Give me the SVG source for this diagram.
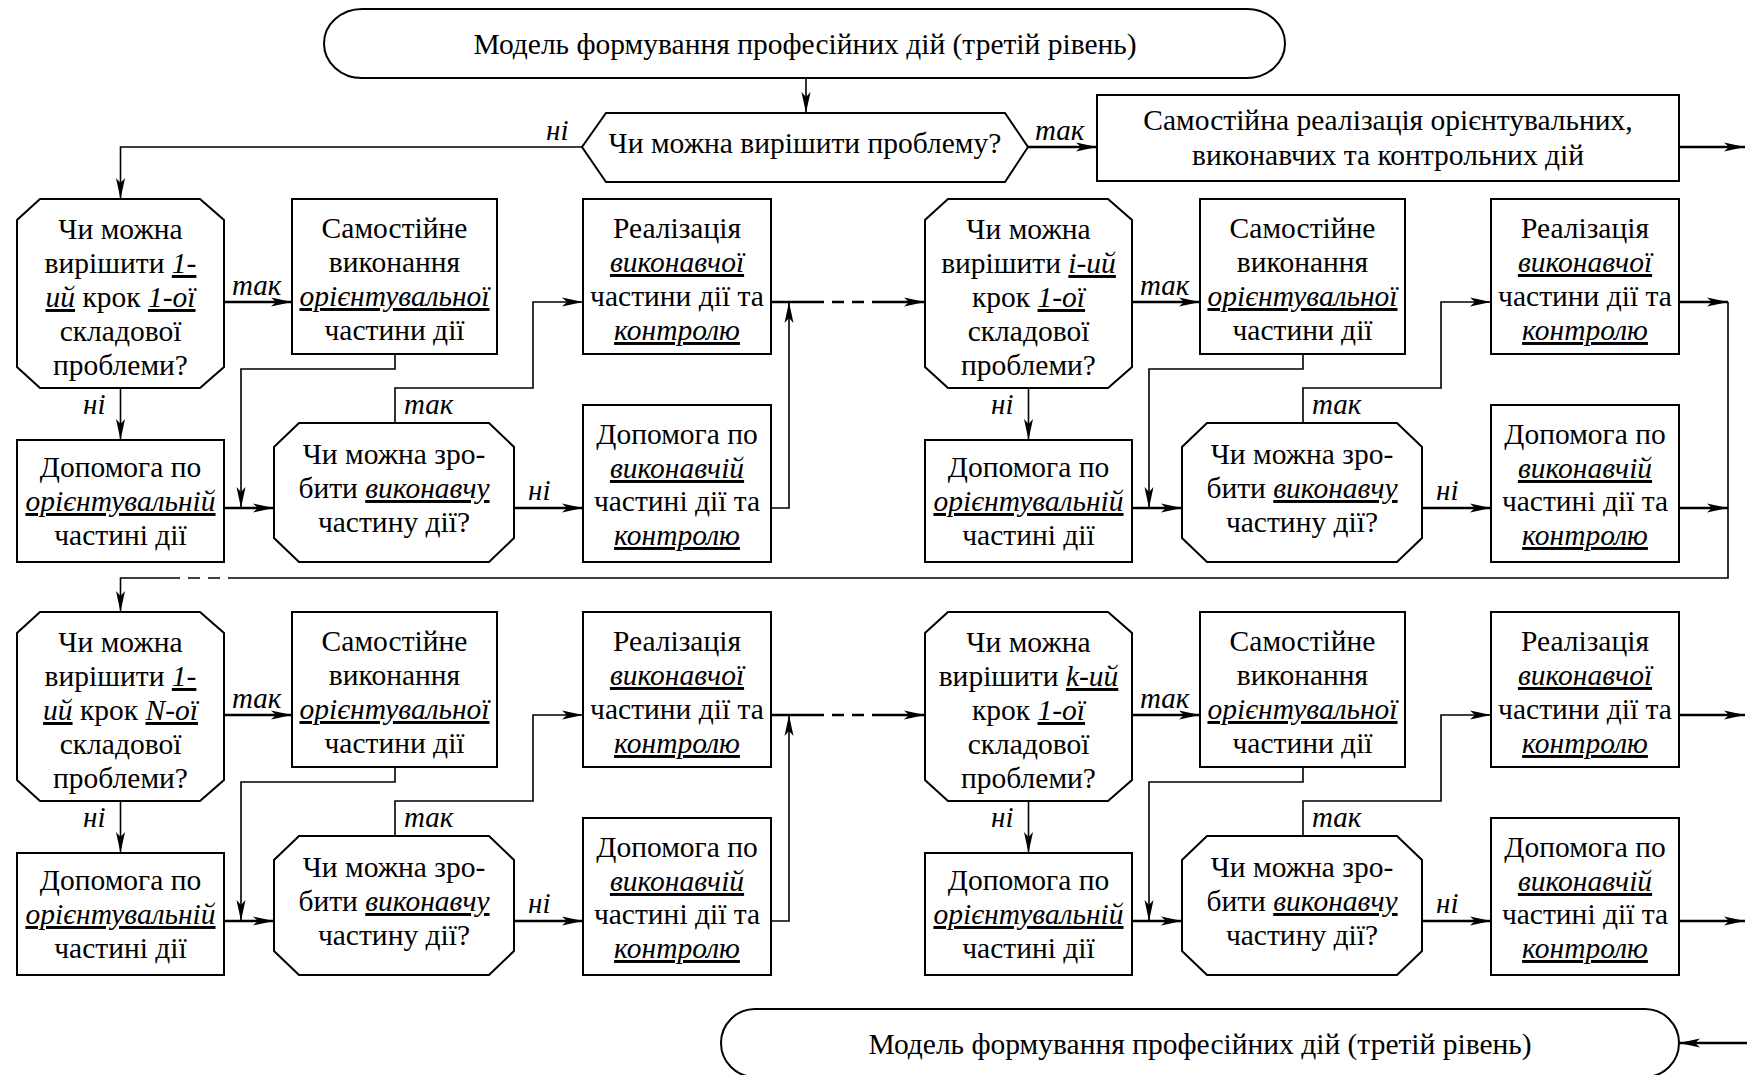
<svg xmlns="http://www.w3.org/2000/svg" width="1747" height="1075" viewBox="0 0 1747 1075">
<defs>
<style>
.n{fill:#fff;stroke:#000;stroke-width:2}
.t{font-family:"Liberation Serif","Times New Roman",serif;font-size:29.5px;text-anchor:middle;fill:#000}
.u{font-style:italic;text-decoration:underline}
.l{font-family:"Liberation Serif","Times New Roman",serif;font-size:29px;font-style:italic;fill:#000}
.c{fill:none;stroke:#000;stroke-width:1.6}
.k{stroke-width:2.6}
.d{stroke-dasharray:12 8}
.a{marker-end:url(#ah)}
</style>
<marker id="ah" markerWidth="22" markerHeight="12" refX="21" refY="6" orient="auto" markerUnits="userSpaceOnUse">
<path d="M0,1.5 L21,6 L0,10.5 L5,6 z" fill="#000"/>
</marker>
</defs>
<rect width="1747" height="1075" fill="#fff"/>

<g id="start">
<rect class="n" x="324" y="9" width="961" height="69" rx="38" ry="34.5"/>
<text class="t" x="805" y="54">Модель формування професійних дій (третій рівень)</text>
</g>
<g id="q0">
<polygon class="n" points="582,147 606,113 1005,113 1028,147 1005,182 606,182"/>
<text class="t" x="805" y="153">Чи можна вирішити проблему?</text>
</g>
<g id="solve">
<rect class="n" x="1097" y="95" width="582" height="86"/>
<text class="t" x="1388" y="130">Самостійна реалізація орієнтувальних,</text>
<text class="t" x="1388" y="165">виконавчих та контрольних дій</text>
</g>
<g id="end">
<rect class="n" x="721" y="1009" width="958" height="68" rx="34" ry="34"/>
<text class="t" x="1200" y="1054">Модель формування професійних дій (третій рівень)</text>
</g>

<!-- Block 1 (row 1 left) -->
<g id="b1-q">
<polygon class="n" points="40,199 200,199 224,220 224,367 200,388 40,388 17,367 17,220"/>
<text class="t" x="120.5" y="239">Чи можна</text>
<text class="t" x="120.5" y="273">вирішити <tspan class="u">1-</tspan></text>
<text class="t" x="120.5" y="307"><tspan class="u">ий</tspan> крок <tspan class="u">1-ої</tspan></text>
<text class="t" x="120.5" y="341">складової</text>
<text class="t" x="120.5" y="375">проблеми?</text>
</g>
<g id="b1-s">
<rect class="n" x="292" y="199" width="205" height="155"/>
<text class="t" x="394.5" y="238">Самостійне</text>
<text class="t" x="394.5" y="272">виконання</text>
<text class="t" x="394.5" y="306"><tspan class="u">орієнтувальної</tspan></text>
<text class="t" x="394.5" y="340">частини дії</text>
</g>
<g id="b1-r">
<rect class="n" x="583" y="199" width="188" height="155"/>
<text class="t" x="677" y="238">Реалізація</text>
<text class="t" x="677" y="272"><tspan class="u">виконавчої</tspan></text>
<text class="t" x="677" y="306">частини дії та</text>
<text class="t" x="677" y="340"><tspan class="u">контролю</tspan></text>
</g>
<g id="b1-h">
<rect class="n" x="17" y="440" width="207" height="122"/>
<text class="t" x="120.5" y="477">Допомога по</text>
<text class="t" x="120.5" y="511"><tspan class="u">орієнтувальній</tspan></text>
<text class="t" x="120.5" y="545">частині дії</text>
</g>
<g id="b1-e">
<polygon class="n" points="299,423 489,423 514,447 514,538 489,562 299,562 274,538 274,447"/>
<text class="t" x="394" y="464">Чи можна зро-</text>
<text class="t" x="394" y="498">бити <tspan class="u">виконавчу</tspan></text>
<text class="t" x="394" y="532">частину дії?</text>
</g>
<g id="b1-d">
<rect class="n" x="583" y="405" width="188" height="157"/>
<text class="t" x="677" y="444">Допомога по</text>
<text class="t" x="677" y="478"><tspan class="u">виконавчій</tspan></text>
<text class="t" x="677" y="511">частині дії та</text>
<text class="t" x="677" y="545"><tspan class="u">контролю</tspan></text>
</g>

<!-- Block 2 (row 1 right) -->
<g id="b2-q" transform="translate(908,0)">
<polygon class="n" points="40,199 200,199 224,220 224,367 200,388 40,388 17,367 17,220"/>
<text class="t" x="120.5" y="239">Чи можна</text>
<text class="t" x="120.5" y="273">вирішити <tspan class="u">і-ий</tspan></text>
<text class="t" x="120.5" y="307">крок <tspan class="u">1-ої</tspan></text>
<text class="t" x="120.5" y="341">складової</text>
<text class="t" x="120.5" y="375">проблеми?</text>
</g>
<g id="b2-s" transform="translate(908,0)">
<rect class="n" x="292" y="199" width="205" height="155"/>
<text class="t" x="394.5" y="238">Самостійне</text>
<text class="t" x="394.5" y="272">виконання</text>
<text class="t" x="394.5" y="306"><tspan class="u">орієнтувальної</tspan></text>
<text class="t" x="394.5" y="340">частини дії</text>
</g>
<g id="b2-r" transform="translate(908,0)">
<rect class="n" x="583" y="199" width="188" height="155"/>
<text class="t" x="677" y="238">Реалізація</text>
<text class="t" x="677" y="272"><tspan class="u">виконавчої</tspan></text>
<text class="t" x="677" y="306">частини дії та</text>
<text class="t" x="677" y="340"><tspan class="u">контролю</tspan></text>
</g>
<g id="b2-h" transform="translate(908,0)">
<rect class="n" x="17" y="440" width="207" height="122"/>
<text class="t" x="120.5" y="477">Допомога по</text>
<text class="t" x="120.5" y="511"><tspan class="u">орієнтувальній</tspan></text>
<text class="t" x="120.5" y="545">частині дії</text>
</g>
<g id="b2-e" transform="translate(908,0)">
<polygon class="n" points="299,423 489,423 514,447 514,538 489,562 299,562 274,538 274,447"/>
<text class="t" x="394" y="464">Чи можна зро-</text>
<text class="t" x="394" y="498">бити <tspan class="u">виконавчу</tspan></text>
<text class="t" x="394" y="532">частину дії?</text>
</g>
<g id="b2-d" transform="translate(908,0)">
<rect class="n" x="583" y="405" width="188" height="157"/>
<text class="t" x="677" y="444">Допомога по</text>
<text class="t" x="677" y="478"><tspan class="u">виконавчій</tspan></text>
<text class="t" x="677" y="511">частині дії та</text>
<text class="t" x="677" y="545"><tspan class="u">контролю</tspan></text>
</g>

<!-- Block 3 (row 2 left) -->
<g id="b3-q" transform="translate(0,413)">
<polygon class="n" points="40,199 200,199 224,220 224,367 200,388 40,388 17,367 17,220"/>
<text class="t" x="120.5" y="239">Чи можна</text>
<text class="t" x="120.5" y="273">вирішити <tspan class="u">1-</tspan></text>
<text class="t" x="120.5" y="307"><tspan class="u">ий</tspan> крок <tspan class="u">N-ої</tspan></text>
<text class="t" x="120.5" y="341">складової</text>
<text class="t" x="120.5" y="375">проблеми?</text>
</g>
<g id="b3-s" transform="translate(0,413)">
<rect class="n" x="292" y="199" width="205" height="155"/>
<text class="t" x="394.5" y="238">Самостійне</text>
<text class="t" x="394.5" y="272">виконання</text>
<text class="t" x="394.5" y="306"><tspan class="u">орієнтувальної</tspan></text>
<text class="t" x="394.5" y="340">частини дії</text>
</g>
<g id="b3-r" transform="translate(0,413)">
<rect class="n" x="583" y="199" width="188" height="155"/>
<text class="t" x="677" y="238">Реалізація</text>
<text class="t" x="677" y="272"><tspan class="u">виконавчої</tspan></text>
<text class="t" x="677" y="306">частини дії та</text>
<text class="t" x="677" y="340"><tspan class="u">контролю</tspan></text>
</g>
<g id="b3-h" transform="translate(0,413)">
<rect class="n" x="17" y="440" width="207" height="122"/>
<text class="t" x="120.5" y="477">Допомога по</text>
<text class="t" x="120.5" y="511"><tspan class="u">орієнтувальній</tspan></text>
<text class="t" x="120.5" y="545">частині дії</text>
</g>
<g id="b3-e" transform="translate(0,413)">
<polygon class="n" points="299,423 489,423 514,447 514,538 489,562 299,562 274,538 274,447"/>
<text class="t" x="394" y="464">Чи можна зро-</text>
<text class="t" x="394" y="498">бити <tspan class="u">виконавчу</tspan></text>
<text class="t" x="394" y="532">частину дії?</text>
</g>
<g id="b3-d" transform="translate(0,413)">
<rect class="n" x="583" y="405" width="188" height="157"/>
<text class="t" x="677" y="444">Допомога по</text>
<text class="t" x="677" y="478"><tspan class="u">виконавчій</tspan></text>
<text class="t" x="677" y="511">частині дії та</text>
<text class="t" x="677" y="545"><tspan class="u">контролю</tspan></text>
</g>

<!-- Block 4 (row 2 right) -->
<g id="b4-q" transform="translate(908,413)">
<polygon class="n" points="40,199 200,199 224,220 224,367 200,388 40,388 17,367 17,220"/>
<text class="t" x="120.5" y="239">Чи можна</text>
<text class="t" x="120.5" y="273">вирішити <tspan class="u">k-ий</tspan></text>
<text class="t" x="120.5" y="307">крок <tspan class="u">1-ої</tspan></text>
<text class="t" x="120.5" y="341">складової</text>
<text class="t" x="120.5" y="375">проблеми?</text>
</g>
<g id="b4-s" transform="translate(908,413)">
<rect class="n" x="292" y="199" width="205" height="155"/>
<text class="t" x="394.5" y="238">Самостійне</text>
<text class="t" x="394.5" y="272">виконання</text>
<text class="t" x="394.5" y="306"><tspan class="u">орієнтувальної</tspan></text>
<text class="t" x="394.5" y="340">частини дії</text>
</g>
<g id="b4-r" transform="translate(908,413)">
<rect class="n" x="583" y="199" width="188" height="155"/>
<text class="t" x="677" y="238">Реалізація</text>
<text class="t" x="677" y="272"><tspan class="u">виконавчої</tspan></text>
<text class="t" x="677" y="306">частини дії та</text>
<text class="t" x="677" y="340"><tspan class="u">контролю</tspan></text>
</g>
<g id="b4-h" transform="translate(908,413)">
<rect class="n" x="17" y="440" width="207" height="122"/>
<text class="t" x="120.5" y="477">Допомога по</text>
<text class="t" x="120.5" y="511"><tspan class="u">орієнтувальній</tspan></text>
<text class="t" x="120.5" y="545">частині дії</text>
</g>
<g id="b4-e" transform="translate(908,413)">
<polygon class="n" points="299,423 489,423 514,447 514,538 489,562 299,562 274,538 274,447"/>
<text class="t" x="394" y="464">Чи можна зро-</text>
<text class="t" x="394" y="498">бити <tspan class="u">виконавчу</tspan></text>
<text class="t" x="394" y="532">частину дії?</text>
</g>
<g id="b4-d" transform="translate(908,413)">
<rect class="n" x="583" y="405" width="188" height="157"/>
<text class="t" x="677" y="444">Допомога по</text>
<text class="t" x="677" y="478"><tspan class="u">виконавчій</tspan></text>
<text class="t" x="677" y="511">частині дії та</text>
<text class="t" x="677" y="545"><tspan class="u">контролю</tspan></text>
</g>

<g id="connectors">
<path class="c a" d="M806,78 V113"/>
<path class="c a" d="M582,147 H120.5 V199"/>
<text class="l" x="546" y="140">ні</text>
<path class="c k a" d="M1028,147 H1097"/>
<text class="l" x="1035" y="140">так</text>
<path class="c k a" d="M1679,147 H1745"/>

<g id="conn-b1">
<path class="c k a" d="M224,302 H292"/>
<text class="l" x="232" y="295">так</text>
<path class="c a" d="M120.5,388 V440"/>
<text class="l" x="83" y="414">ні</text>
<path class="c k a" d="M224,508 H274"/>
<path class="c a" d="M395,354 V369 H241 V508"/>
<path class="c a" d="M395,423 V388 H533 V302 H583"/>
<text class="l" x="404" y="414">так</text>
<path class="c k a" d="M514,508 H583"/>
<text class="l" x="528" y="500">ні</text>
<path class="c a" d="M771,508 H789 V302"/>
</g>
<g id="conn-b3" transform="translate(0,413)">
<path class="c k a" d="M224,302 H292"/>
<text class="l" x="232" y="295">так</text>
<path class="c a" d="M120.5,388 V440"/>
<text class="l" x="83" y="414">ні</text>
<path class="c k a" d="M224,508 H274"/>
<path class="c a" d="M395,354 V369 H241 V508"/>
<path class="c a" d="M395,423 V388 H533 V302 H583"/>
<text class="l" x="404" y="414">так</text>
<path class="c k a" d="M514,508 H583"/>
<text class="l" x="528" y="500">ні</text>
<path class="c a" d="M771,508 H789 V302"/>
</g>
<g id="conn-b2" transform="translate(908,0)">
<path class="c k a" d="M224,302 H292"/>
<text class="l" x="232" y="295">так</text>
<path class="c a" d="M120.5,388 V440"/>
<text class="l" x="83" y="414">ні</text>
<path class="c k a" d="M224,508 H274"/>
<path class="c a" d="M395,354 V369 H241 V508"/>
<path class="c a" d="M395,423 V388 H533 V302 H583"/>
<text class="l" x="404" y="414">так</text>
<path class="c k a" d="M514,508 H583"/>
<text class="l" x="528" y="500">ні</text>
</g>
<g id="conn-b4" transform="translate(908,413)">
<path class="c k a" d="M224,302 H292"/>
<text class="l" x="232" y="295">так</text>
<path class="c a" d="M120.5,388 V440"/>
<text class="l" x="83" y="414">ні</text>
<path class="c k a" d="M224,508 H274"/>
<path class="c a" d="M395,354 V369 H241 V508"/>
<path class="c a" d="M395,423 V388 H533 V302 H583"/>
<text class="l" x="404" y="414">так</text>
<path class="c k a" d="M514,508 H583"/>
<text class="l" x="528" y="500">ні</text>
</g>

<path class="c k" d="M771,302 H812"/>
<path class="c k d" d="M812,302 H873"/>
<path class="c k a" d="M873,302 H925"/>
<path class="c k" d="M771,715 H812"/>
<path class="c k d" d="M812,715 H873"/>
<path class="c k a" d="M873,715 H925"/>

<path class="c k a" d="M1679,302 H1728"/>
<path class="c k a" d="M1679,508 H1728"/>
<path class="c" d="M1728,302 V578 H240"/>
<path class="c d" d="M240,578 H177"/>
<path class="c a" d="M177,578 H120.5 V612"/>

<path class="c k a" d="M1679,715 H1745"/>
<path class="c k a" d="M1679,921 H1745"/>
<path class="c k a" d="M1747,1043 H1679"/>
</g>
</svg>
